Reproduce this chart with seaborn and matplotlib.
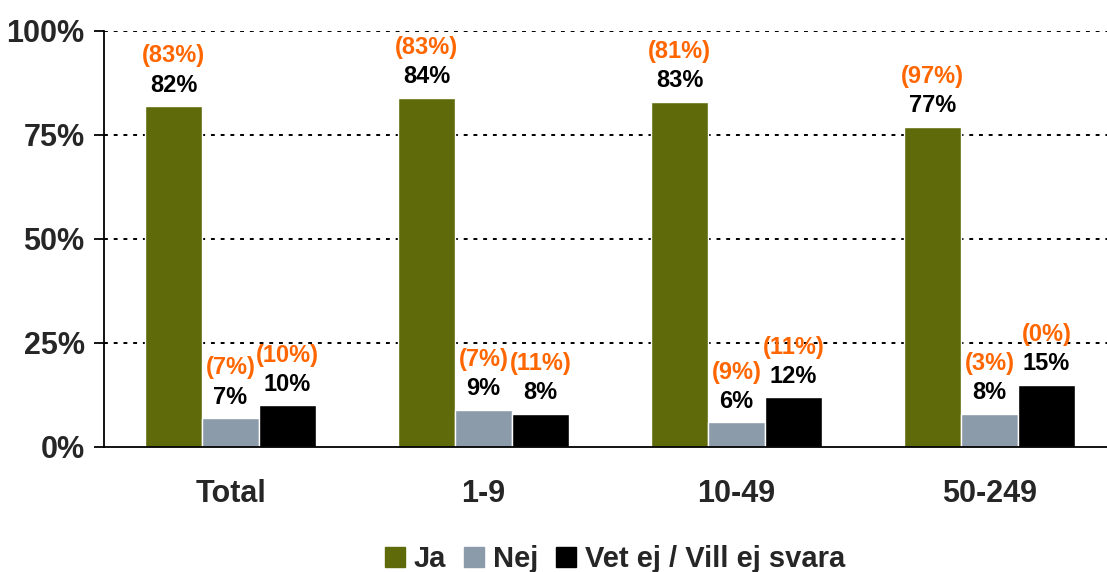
import pandas as pd
import seaborn as sns
import matplotlib.pyplot as plt
from matplotlib.ticker import FixedLocator

# data
groups = ['Total', '1-9', '10-49', '50-249']
series = ['Ja', 'Nej', 'Vet ej / Vill ej svara']
ja = [82, 84, 83, 77]
nej = [7, 9, 6, 8]
vet = [10, 8, 12, 15]
# earlier values (orange, in parentheses)
ja_prev = [83, 83, 81, 97]
nej_prev = [7, 7, 9, 3]
vet_prev = [10, 11, 11, 0]

colors = ['#5f6b0a', '#8c9baa', '#000000']

df = pd.DataFrame({
    'grupp': groups * 3,
    'serie': [s for s in series for _ in groups],
    'andel': ja + nej + vet,
})

sns.set_style('white')
plt.rcParams['font.family'] = ['Liberation Sans', 'DejaVu Sans']
plt.rcParams['font.weight'] = 'bold'

fig = plt.figure(figsize=(11.07, 5.72), dpi=100)
ax = fig.add_axes([104 / 1107, 125 / 572, 1012 / 1107, 416 / 572])

sns.barplot(data=df, x='grupp', y='andel', hue='serie', order=groups,
            hue_order=series, palette=colors, width=0.675, saturation=1,
            ax=ax, legend=False)

ax.set_xlim(-0.5, 3.5)
ax.set_ylim(0, 100)
ax.set_yticks([0, 25, 50, 75, 100])
ax.set_yticklabels(['0%', '25%', '50%', '75%', '100%'], fontsize=22, fontweight='bold')
ax.set_xticks(range(len(groups)))
ax.set_xticklabels(groups, fontsize=22, fontweight='bold')
ax.xaxis.set_minor_locator(FixedLocator([-0.5, 0.5, 1.5, 2.5, 3.5]))
ax.tick_params(axis='x', which='major', length=0, pad=23)
ax.tick_params(axis='x', which='minor', length=7, width=1.3, direction='out', color='black')
ax.tick_params(axis='y', length=7, width=1.3, direction='out', color='black', pad=7, left=True)
ax.set_xlabel('')
ax.set_ylabel('')

for y in [25, 50, 75, 100]:
    ax.axhline(y, color='black', lw=1.4, ls=(0, (2, 3)), zorder=0)

for sp in ['top', 'right']:
    ax.spines[sp].set_visible(False)
for sp in ['left', 'bottom']:
    ax.spines[sp].set_color('black')
    ax.spines[sp].set_linewidth(1.3)

cur = [ja, nej, vet]
prev = [ja_prev, nej_prev, vet_prev]
for k, cont in enumerate(ax.containers):
    for i, bar in enumerate(cont):
        xc = bar.get_x() + bar.get_width() / 2
        top = bar.get_height()
        ax.annotate(f'{cur[k][i]}%', (xc, top), xytext=(0, 15), textcoords='offset points',
                    ha='center', va='center', fontsize=17, fontweight='bold', color='black')
        ax.annotate(f'({prev[k][i]}%)', (xc, top), xytext=(0, 36), textcoords='offset points',
                    ha='center', va='center', fontsize=17, fontweight='bold', color='#ff6600')

handles = [plt.Rectangle((0, 0), 1, 1, color=c) for c in colors]
leg = ax.legend(handles, series, loc='center', bbox_to_anchor=(0.505, -0.27), ncol=3,
                frameon=False, handlelength=0.7, handleheight=0.7,
                handletextpad=0.3, columnspacing=0.6, prop={'weight': 'bold', 'size': 21})

fig.savefig('out.png', dpi=100)
